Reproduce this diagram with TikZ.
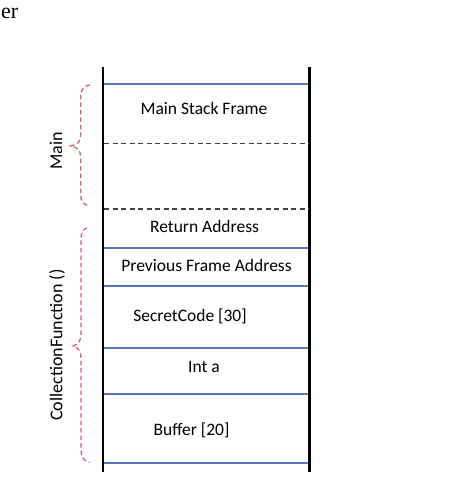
\documentclass[tikz,border=0pt]{standalone}
\usepackage{fontspec}
\setmainfont{Carlito}
\newfontfamily\serifer{Liberation Serif}
\definecolor{rowblue}{HTML}{5677BA}
\definecolor{bracered}{HTML}{DE5E62}
\definecolor{dashgray}{HTML}{404040}
\begin{document}
\begin{tikzpicture}[x=1pt,y=-1pt,
  wall/.style={line width=2.6pt,black},
  rowline/.style={line width=1.5pt,rowblue},
  dashrow/.style={line width=1.4pt,dashgray,dash pattern=on 5pt off 3.5pt},
  bracecurve/.style={line width=1.3pt,bracered,dash pattern=on 4.5pt off 3pt},
  cell/.style={font=\fontsize{17.5}{19}\selectfont,inner sep=0pt},
  sidelabel/.style={font=\fontsize{18}{20}\selectfont,rotate=90,inner sep=0pt}]
\useasboundingbox (0,0) rectangle (474,502);
% walls
\coordinate (lt) at (102.8,67); \coordinate (lb) at (102.8,472);
\coordinate (rt) at (309.5,67); \coordinate (rb) at (309.5,472);
\draw[wall] (lt) -- (lb);
\draw[wall] (rt) -- (rb);
% rows
\foreach \y/\n in {84/a,248/b,286/c,348/d,394/e,463/f}{
  \coordinate (\n l) at (104.1,\y); \coordinate (\n r) at (308.2,\y);
  \draw[rowline] (\n l) -- (\n r);}
\foreach \y/\n in {143.8/g,209/h}{
  \coordinate (\n l) at (104.1,\y); \coordinate (\n r) at (308.2,\y);
  \draw[dashrow] (\n l) -- (\n r);}
% cell texts
\node[cell] (msf) at (204,108) {Main Stack Frame};
\node[cell] (ret) at (204.5,226.5) {Return Address};
\node[cell] (pfa) at (206.5,265.5) {Previous Frame Address};
\node[cell] (sec) at (190,316) {SecretCode [30]};
\node[cell] (inta) at (204,367) {Int a};
\node[cell] (buf) at (191.5,430.5) {Buffer [20]};
% braces
\draw[bracecurve] (90,85) .. controls (84,85.5) and (80.7,89) .. (80.7,97)
  -- (80.7,135) .. controls (80.7,142) and (77,145) .. (70.5,146)
  .. controls (77,147) and (80.7,150) .. (80.7,157)
  -- (80.7,195) .. controls (80.7,202) and (84,205.3) .. (90,205.8);
\draw[bracecurve] (87,228) .. controls (83,229) and (81,232) .. (81,240)
  -- (81,334) .. controls (81,341) and (78,344.5) .. (73,346)
  .. controls (78,347.5) and (81,351) .. (81,358)
  -- (81,450) .. controls (81,457) and (83.5,461) .. (89.5,462.5);
% side labels
\node[sidelabel] (mainlbl) at (56,151) {Main};
\node[sidelabel] (cflbl) at (57,345) {CollectionFunction ()};
% cut-off caption fragment
\node[font=\serifer\fontsize{22}{24}\selectfont,anchor=base east,inner sep=0pt] (frag) at (18.5,18.5) {er};
\end{tikzpicture}
\end{document}
